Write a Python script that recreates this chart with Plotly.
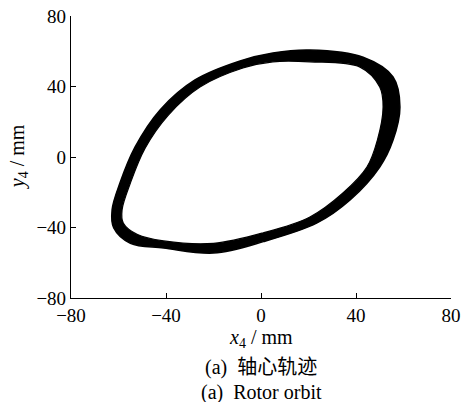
import plotly.graph_objects as go

# Rotor orbit band (mm): outer edge and inner edge of the traced band
outer_x = [20.6, 43, 55.6, 58.5, 55.6, 50, 37.5, 23.6, 1, -20, -41, -55, -62, -62.7, -59.4, -53, -42.5, -27.8, -8.8, 5, 20.6]
outer_y = [60.7, 56.6, 45.4, 28.4, 9.6, -5.7, -24.4, -37.4, -48, -54.5, -51.6, -49, -40.3, -30, -14.8, 5.7, 26.7, 43.7, 54.5, 59, 60.7]

inner_x = [20.6, 41.7, 50, 51.4, 49, 44.6, 34.5, 20.6, 1, -20, -41, -52, -58, -58.5, -55, -48.8, -39, -25.7, -7.6, 5, 20.6]
inner_y = [54, 51, 39.7, 28.4, 9.6, -5.7, -20.4, -34, -43, -49, -47.6, -44, -37.4, -30, -14.8, 5, 23.8, 39.7, 50.5, 54, 54]

tick_vals = [-80, -40, 0, 40, 80]

fig = go.Figure()
fig.add_trace(go.Scatter(x=outer_x, y=outer_y, mode="lines", fill="toself", fillcolor="black",
                         line=dict(color="black", width=1.5, shape="spline", smoothing=1.0),
                         showlegend=False, hoverinfo="skip"))
fig.add_trace(go.Scatter(x=inner_x, y=inner_y, mode="lines", fill="toself", fillcolor="white",
                         line=dict(color="black", width=1.2, shape="spline", smoothing=1.0),
                         showlegend=False, hoverinfo="skip"))

serif = "Liberation Serif, Times New Roman, serif"
tick_font = dict(family=serif, size=19, color="black")
axis_common = dict(range=[-80, 80], tickvals=tick_vals, ticks="inside", ticklen=5,
                   tickcolor="black", tickwidth=1.2, showline=True, linecolor="black",
                   linewidth=1.2, showgrid=False, zeroline=False, tickfont=tick_font,
                   mirror=False, automargin=False, ticklabeloverflow="allow")

fig.update_layout(
    width=464, height=402,
    margin=dict(l=71, r=13, t=16, b=104),
    paper_bgcolor="white", plot_bgcolor="white",
    xaxis=dict(**axis_common),
    yaxis=dict(**axis_common),
    annotations=[
        dict(text="<i>x</i><sub>4</sub> / mm", xref="paper", yref="paper", x=0.5, y=-0.145,
             showarrow=False, xanchor="center", yanchor="middle",
             font=dict(family=serif, size=20, color="black")),
        dict(text="<i>y</i><sub>4</sub> / mm", xref="paper", yref="paper", x=-0.139, y=0.5,
             showarrow=False, xanchor="center", yanchor="middle", textangle=-90,
             font=dict(family=serif, size=20, color="black")),
        dict(text="(a)  轴心轨迹", xref="paper", yref="paper", x=0.5, y=-0.245,
             showarrow=False, xanchor="center", yanchor="middle",
             font=dict(family="Liberation Serif, Noto Sans CJK SC, serif", size=20, color="black")),
        dict(text="(a)  Rotor orbit", xref="paper", yref="paper", x=0.5, y=-0.335,
             showarrow=False, xanchor="center", yanchor="middle",
             font=dict(family=serif, size=20, color="black")),
    ],
)

# remove the default 8px page margin so the 464x402 figure fills the window exactly
fig.write_html("out.html", config={"displayModeBar": False},
               post_script="document.body.style.margin='0';document.body.style.overflow='hidden';")
